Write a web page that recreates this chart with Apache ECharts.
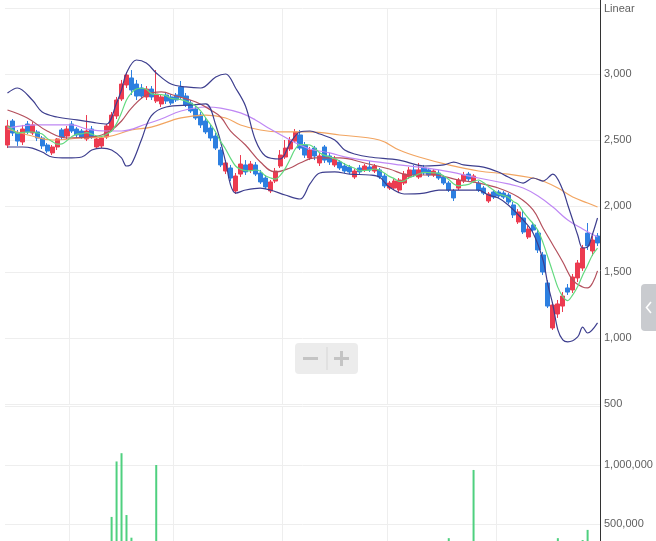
<!DOCTYPE html>
<html><head><meta charset="utf-8">
<script src="https://cdn.jsdelivr.net/npm/echarts/dist/echarts.min.js"></script>
<style>html,body{margin:0;padding:0;background:#fff;}#c{width:656px;height:541px;}</style>
</head><body><div id="c"></div>
<script>
// ---- data ----
const opens = [2462,2644,2553,2485,2621,2553,2561,2515,2462,2402,
2447,2576,2530,2621,2583,2568,2508,2583,2447,2455,
2523,2576,2682,2811,2917,2970,2924,2894,2826,2886,
2795,2773,2841,2826,2841,2902,2833,2780,2735,2689,
2644,2591,2530,2424,2265,2288,2114,2242,2311,2273,
2311,2250,2212,2114,2189,2303,2371,2432,2492,2538,
2462,2364,2439,2326,2447,2379,2311,2333,2303,2295,
2220,2288,2273,2295,2265,2273,2227,2136,2136,2121,
2174,2220,2273,2220,2288,2273,2235,2250,2220,2174,
2114,2136,2189,2242,2189,2174,2136,2038,2106,2106,
2098,2083,2008,1879,1909,1765,1856,1795,1629,1417,
1076,1182,1242,1379,1364,1455,1530,1795,1659,1773];
const closes = [2606,2553,2492,2583,2561,2614,2515,2455,2417,2447,
2508,2523,2583,2568,2538,2523,2568,2523,2508,2515,
2606,2689,2803,2924,2992,2879,2833,2833,2886,2826,
2848,2826,2795,2780,2803,2826,2765,2720,2667,2614,
2561,2515,2439,2311,2326,2212,2227,2318,2258,2318,
2242,2182,2144,2182,2265,2386,2439,2500,2561,2439,
2386,2424,2379,2379,2348,2333,2356,2288,2265,2258,
2265,2258,2303,2273,2303,2220,2152,2174,2189,2197,
2242,2273,2235,2273,2250,2235,2265,2212,2174,2121,
2061,2197,2235,2205,2227,2121,2098,2091,2068,2076,
2068,2030,1932,1955,1803,1826,1818,1667,1500,1242,
1250,1258,1318,1348,1462,1568,1682,1697,1742,1720];
const lows = [2439,2530,2455,2462,2545,2538,2492,2432,2402,2386,
2424,2500,2508,2553,2515,2508,2492,2508,2432,2439,
2508,2561,2659,2795,2894,2841,2803,2811,2803,2803,
2780,2750,2773,2765,2788,2811,2750,2705,2652,2591,
2545,2492,2424,2295,2242,2189,2091,2220,2235,2250,
2227,2167,2129,2098,2174,2288,2356,2417,2477,2424,
2364,2348,2348,2303,2326,2311,2295,2273,2250,2242,
2205,2235,2258,2258,2250,2205,2136,2121,2121,2098,
2159,2205,2220,2205,2235,2220,2220,2197,2159,2106,
2038,2121,2174,2189,2174,2106,2083,2023,2053,2061,
2053,2015,1909,1864,1788,1750,1803,1644,1477,1227,
1061,1152,1197,1326,1341,1424,1508,1667,1621,1697];
const highs = [2652,2659,2576,2614,2644,2636,2576,2530,2477,2462,
2515,2591,2606,2644,2598,2583,2689,2606,2530,2530,
2621,2712,2826,2955,3015,3030,2955,2924,2909,2909,
3030,2848,2856,2848,2856,2947,2856,2803,2758,2712,
2667,2614,2553,2447,2348,2311,2250,2386,2348,2341,
2333,2273,2235,2197,2288,2424,2500,2523,2583,2576,
2485,2447,2455,2402,2462,2402,2379,2348,2326,2311,
2280,2311,2318,2341,2318,2288,2250,2189,2205,2212,
2265,2295,2311,2326,2311,2288,2280,2273,2235,2189,
2129,2212,2258,2258,2242,2189,2152,2106,2121,2121,
2114,2098,2030,1977,1962,1848,1879,1818,1652,1439,
1273,1288,1348,1409,1485,1591,1705,1871,1773,1795];
const volumes = [210000,180000,150000,170000,140000,160000,130000,150000,170000,140000,
160000,130000,120000,150000,110000,130000,220000,140000,160000,180000,
240000,560000,1030000,1100000,576000,384000,300000,250000,200000,230000,
1000000,280000,220000,190000,170000,240000,200000,180000,160000,190000,
210000,230000,250000,280000,220000,200000,260000,230000,190000,170000,
160000,180000,200000,170000,190000,240000,260000,230000,250000,220000,
200000,180000,170000,160000,190000,150000,140000,130000,150000,140000,
130000,120000,140000,110000,130000,150000,170000,160000,140000,150000,
160000,170000,150000,140000,130000,120000,140000,130000,150000,380000,
200000,180000,170000,160000,958000,190000,170000,200000,180000,160000,
150000,170000,200000,220000,240000,210000,190000,260000,300000,330000,
340000,380000,320000,290000,310000,300000,364000,450000,280000,260000];
// indicator lines: [dayIndex, price]
const bbUpper = [[0,2856],[2,2894],[5,2803],[7,2712],[10,2674],[14,2652],[18,2629],[20,2621],[22,2780],[23,2879],[24,3008],[26,3106],[28,3083],[30,3008],[33,2924],[36,2902],[39,2894],[42,2977],[44,3000],[46,2894],[48,2758],[50,2500],[52,2379],[55,2356],[57,2477],[59,2561],[61,2568],[63,2545],[66,2500],[68,2424],[70,2394],[73,2371],[79,2348],[84,2303],[88,2311],[90,2333],[92,2311],[96,2295],[99,2258],[101,2220],[104,2174],[106,2212],[108,2189],[110,2242],[112,2121],[113,2008],[114,1894],[115,1780],[116,1682],[117,1689],[118,1788],[119,1909]];
const bbLower = [[0,2447],[3,2447],[5,2439],[7,2409],[9,2371],[12,2364],[15,2371],[17,2424],[19,2439],[21,2424],[23,2364],[24,2303],[25,2318],[27,2500],[29,2682],[32,2750],[37,2765],[40,2773],[42,2614],[44,2333],[45,2159],[46,2098],[48,2121],[51,2136],[53,2121],[56,2083],[59,2053],[61,2167],[63,2250],[66,2258],[69,2242],[73,2235],[75,2220],[77,2144],[80,2091],[84,2098],[87,2121],[91,2121],[95,2121],[97,2083],[99,2061],[101,2008],[104,1894],[106,1795],[108,1591],[109,1402],[110,1250],[111,1061],[112,985],[113,970],[115,1008],[116,1083],[117,1038],[119,1114]];
const ma20 = [[0,2727],[4,2667],[8,2568],[12,2515],[17,2523],[19,2538],[21,2576],[23,2644],[25,2742],[28,2841],[31,2864],[34,2833],[38,2788],[41,2727],[43,2674],[45,2568],[48,2462],[51,2333],[54,2258],[57,2288],[59,2326],[62,2364],[67,2364],[72,2326],[77,2280],[81,2235],[86,2235],[91,2197],[95,2174],[99,2136],[103,2068],[106,1970],[108,1833],[110,1705],[112,1576],[114,1439],[116,1386],[117,1379],[118,1417],[119,1508]];
const ma60 = [[0,2591],[6,2614],[13,2614],[16,2583],[20,2568],[23,2568],[28,2621],[31,2659],[35,2720],[40,2750],[43,2742],[47,2705],[50,2652],[53,2583],[57,2500],[59,2462],[61,2432],[65,2402],[69,2364],[76,2326],[79,2311],[87,2273],[95,2212],[101,2167],[104,2136],[107,2076],[110,1992],[113,1894],[116,1826],[119,1765]];
const ma120 = [[0,2583],[5,2530],[9,2500],[15,2515],[20,2523],[25,2576],[29,2598],[35,2667],[40,2689],[44,2667],[47,2614],[51,2576],[55,2561],[61,2561],[67,2538],[75,2500],[79,2424],[83,2371],[89,2311],[95,2265],[101,2242],[106,2212],[108,2189],[111,2136],[114,2068],[117,2023],[119,1992]];
const priceTicks = [500,1000,1500,2000,2500,3000];
const volumeTicks = [500000,1000000];

// categories: trading days
const categories = [];
(function(){ let d = new Date(Date.UTC(2021,10,15)); while (categories.length < closes.length) { const w = d.getUTCDay(); if (w!==0 && w!==6) categories.push(d.toISOString().slice(0,10)); d.setUTCDate(d.getUTCDate()+1);} })();

const candleData = opens.map((o,i)=>[o, closes[i], lows[i], highs[i]]);
const ma5 = closes.map((c,i)=>{ const s=Math.max(0,i-4); let t=0; for(let k=s;k<=i;k++) t+=closes[k]; return +(t/(i-s+1)).toFixed(1); });

const UP='#ec3b50', DOWN='#2d7fe0';
const gridMarks = [13,34,56,77,99];
const fmt = v => v.toLocaleString('en-US');
const labelFont = "'Liberation Sans',Arial,sans-serif";

const chart = echarts.init(document.getElementById('c'), null, {renderer:'canvas'});
function xAx(g){ return {type:'category', gridIndex:g, data:categories, boundaryGap:true,
  axisLine:{show:false}, axisTick:{show:false}, axisLabel:{show:false},
  splitLine:{show:true, interval:(i)=>gridMarks.indexOf(i)>=0, lineStyle:{color:'#eeeeee', width:1}}}; }
function line(data, color, w, smooth){ return {type:'line', xAxisIndex:0, yAxisIndex:0, data, symbol:'none', smooth, silent:true,
  lineStyle:{color, width:w}, z:3}; }

chart.setOption({
  animation:false,
  backgroundColor:'#ffffff',
  grid:[{left:5, right:56, top:8, height:396, outerBoundsMode:'none', containLabel:false},
        {left:5, right:56, top:406, height:177, outerBoundsMode:'none', containLabel:false}],
  xAxis:[xAx(0), xAx(1)],
  yAxis:[
    {type:'value', gridIndex:0, position:'right', min:500, max:3500, interval:500,
     axisLine:{show:false}, axisTick:{show:false},
     axisLabel:{margin:4, color:'#5f5f5f', fontSize:11, fontFamily:labelFont, hideOverlap:false, formatter:v=> priceTicks.indexOf(v)>=0 ? fmt(v) : ''},
     splitLine:{lineStyle:{color:'#eeeeee'}}},
    {type:'value', gridIndex:1, position:'right', min:0, max:1500000, interval:500000,
     axisLine:{show:false}, axisTick:{show:false},
     axisLabel:{margin:4, color:'#5f5f5f', fontSize:11, fontFamily:labelFont, hideOverlap:false, formatter:v=> volumeTicks.indexOf(v)>=0 ? fmt(v) : ''},
     splitLine:{lineStyle:{color:'#eeeeee'}}}
  ],
  series:[
    {type:'bar', xAxisIndex:1, yAxisIndex:1, data:volumes, barWidth:2, itemStyle:{color:'#4fd07f'}, silent:true},
    {type:'candlestick', xAxisIndex:0, yAxisIndex:0, data:candleData, barWidth:4.6, silent:true,
     itemStyle:{color:UP, color0:DOWN, borderColor:UP, borderColor0:DOWN, borderWidth:1}, z:2},
    line(ma120, '#f2a561', 1.2, 0.4),
    line(ma60, '#bf88f4', 1.2, 0.4),
    line(ma20, '#b4505d', 1.2, 0.4),
    line(bbUpper, '#3d3e8e', 1.2, 0.35),
    line(bbLower, '#3d3e8e', 1.2, 0.35),
    line(ma5, '#62d97f', 1.2, 0.3)
  ],
  graphic:[
    {type:'line', shape:{x1:600.5, y1:0, x2:600.5, y2:541}, style:{stroke:'#333', lineWidth:1}, z:50},
    {type:'text', x:604, y:9, style:{text:'Linear', fill:'#5f5f5f', font:"11px 'Liberation Sans',Arial", textVerticalAlign:'middle'}, z:50},
    {type:'group', z:60, children:[
      {type:'rect', shape:{x:295, y:343, width:63, height:31, r:4}, style:{fill:'#ececec'}},
      {type:'line', shape:{x1:303, y1:358.5, x2:318, y2:358.5}, style:{stroke:'#c4c4c4', lineWidth:3}},
      {type:'line', shape:{x1:327, y1:347, x2:327, y2:370}, style:{stroke:'#d6d6d6', lineWidth:1}},
      {type:'line', shape:{x1:334, y1:358.5, x2:349, y2:358.5}, style:{stroke:'#c4c4c4', lineWidth:3}},
      {type:'line', shape:{x1:341.5, y1:351, x2:341.5, y2:366}, style:{stroke:'#c4c4c4', lineWidth:3}}
    ]},
    {type:'group', z:60, children:[
      {type:'rect', shape:{x:641, y:284, width:16, height:47, r:[4,0,0,4]}, style:{fill:'#c9cbcf'}},
      {type:'polyline', shape:{points:[[651,302],[646.5,307.5],[651,313]]}, style:{stroke:'#ffffff', lineWidth:1.6, fill:null}}
    ]}
  ]
});
</script></body></html>
